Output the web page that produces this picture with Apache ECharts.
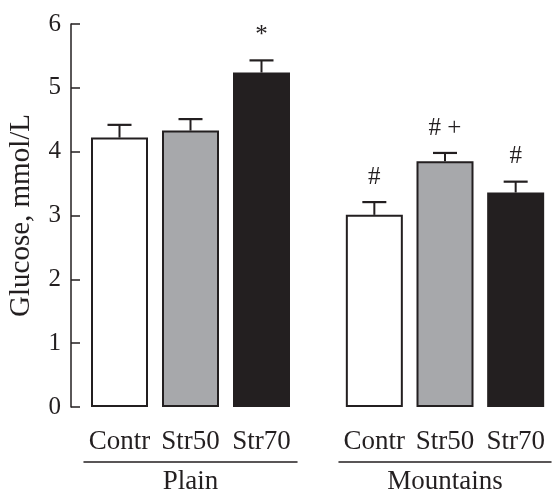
<!DOCTYPE html>
<html><head><meta charset="utf-8">
<script src="https://cdn.jsdelivr.net/npm/echarts@6/dist/echarts.min.js"></script>
<style>html,body{margin:0;padding:0;background:#fff}#c{width:555px;height:491px}</style>
</head><body><div id="c"></div>
<script>
const categories = ['Contr', 'Str50', 'Str70'];
const groups = ['Plain', 'Mountains'];
const plainMeans = [4.22, 4.33, 5.24];
const plainErr = [0.20, 0.18, 0.19];
const mountainMeans = [3.01, 3.85, 3.36];
const mountainErr = [0.20, 0.13, 0.17];
const plainMarks = ['', '', '*'];
const mountainMarks = ['#', '# +', '#'];
const yTicks = [0, 1, 2, 3, 4, 5, 6];

const INK = '#231f20';
const fills = ['#ffffff', '#a7a8ab', '#231f20'];
const FONT = '"Liberation Serif", "DejaVu Serif", serif';

function barData(means) {
  return means.map((v, i) => ({ value: v, itemStyle: { color: fills[i] } }));
}
function errRender(marks) {
  return function (params, api) {
    const x = api.value(0), m = api.value(1), e = api.value(2);
    const p0 = api.coord([x, m]);
    const p1 = api.coord([x, m + e]);
    const hw = 12;
    const children = [
      { type: 'line', shape: { x1: p0[0], y1: p0[1], x2: p1[0], y2: p1[1] }, style: { stroke: INK, lineWidth: 2 } },
      { type: 'line', shape: { x1: p1[0] - hw, y1: p1[1], x2: p1[0] + hw, y2: p1[1] }, style: { stroke: INK, lineWidth: 2.2 } }
    ];
    const mk = marks[params.dataIndex];
    if (mk) {
      children.push({ type: 'text', x: p1[0], y: p1[1] - 25,
        style: { text: mk, fill: INK, font: '25px ' + FONT, align: 'center', verticalAlign: 'middle' } });
    }
    return { type: 'group', children };
  };
}
function errData(means, errs) {
  return means.map((v, i) => [i, v, errs[i]]);
}

const yBase = {
  type: 'value', min: yTicks[0], max: yTicks[yTicks.length - 1], interval: 1,
  splitLine: { show: false }
};
const catLabel = { fontFamily: FONT, fontSize: 27, color: INK, margin: 21, interval: 0, hideOverlap: false };
const groupAxis = (gi, name) => ({
  gridIndex: gi, type: 'category', data: [name], position: 'bottom', offset: 55,
  axisLine: { show: true, lineStyle: { color: INK, width: 1.5 } },
  axisTick: { show: false },
  axisLabel: { fontFamily: FONT, fontSize: 27, color: INK, margin: 6 }
});

const option = {
  animation: false,
  backgroundColor: '#fff',
  grid: [
    { left: 84, right: 258, top: 24, bottom: 84, outerBoundsMode: 'none' },
    { left: 339, right: 4, top: 24, bottom: 84, outerBoundsMode: 'none' }
  ],
  xAxis: [
    { gridIndex: 0, type: 'category', data: categories, axisLine: { show: false }, axisTick: { show: false }, axisLabel: catLabel },
    { gridIndex: 1, type: 'category', data: categories, axisLine: { show: false }, axisTick: { show: false }, axisLabel: catLabel },
    groupAxis(0, groups[0]),
    groupAxis(1, groups[1])
  ],
  yAxis: [
    Object.assign({}, yBase, {
      gridIndex: 0, offset: 13,
      axisLine: { show: true, lineStyle: { color: INK, width: 1.5 } },
      axisTick: { show: true, inside: true, length: 9, lineStyle: { color: INK, width: 1.5 } },
      axisLabel: { fontFamily: FONT, fontSize: 25, color: INK, margin: 10 },
      name: 'Glucose, mmol/L', nameLocation: 'middle', nameGap: 35,
      nameTextStyle: { fontFamily: FONT, fontSize: 29, color: INK }
    }),
    Object.assign({}, yBase, { gridIndex: 1, show: false })
  ],
  series: [
    { type: 'bar', xAxisIndex: 0, yAxisIndex: 0, barWidth: 57, data: barData(plainMeans),
      itemStyle: { borderColor: INK, borderWidth: 2 } },
    { type: 'bar', xAxisIndex: 1, yAxisIndex: 1, barWidth: 57, data: barData(mountainMeans),
      itemStyle: { borderColor: INK, borderWidth: 2 } },
    { type: 'custom', xAxisIndex: 0, yAxisIndex: 0, z: 5, renderItem: errRender(plainMarks), data: errData(plainMeans, plainErr) },
    { type: 'custom', xAxisIndex: 1, yAxisIndex: 1, z: 5, renderItem: errRender(mountainMarks), data: errData(mountainMeans, mountainErr) }
  ]
};
echarts.init(document.getElementById('c')).setOption(option);
</script>
</body></html>
